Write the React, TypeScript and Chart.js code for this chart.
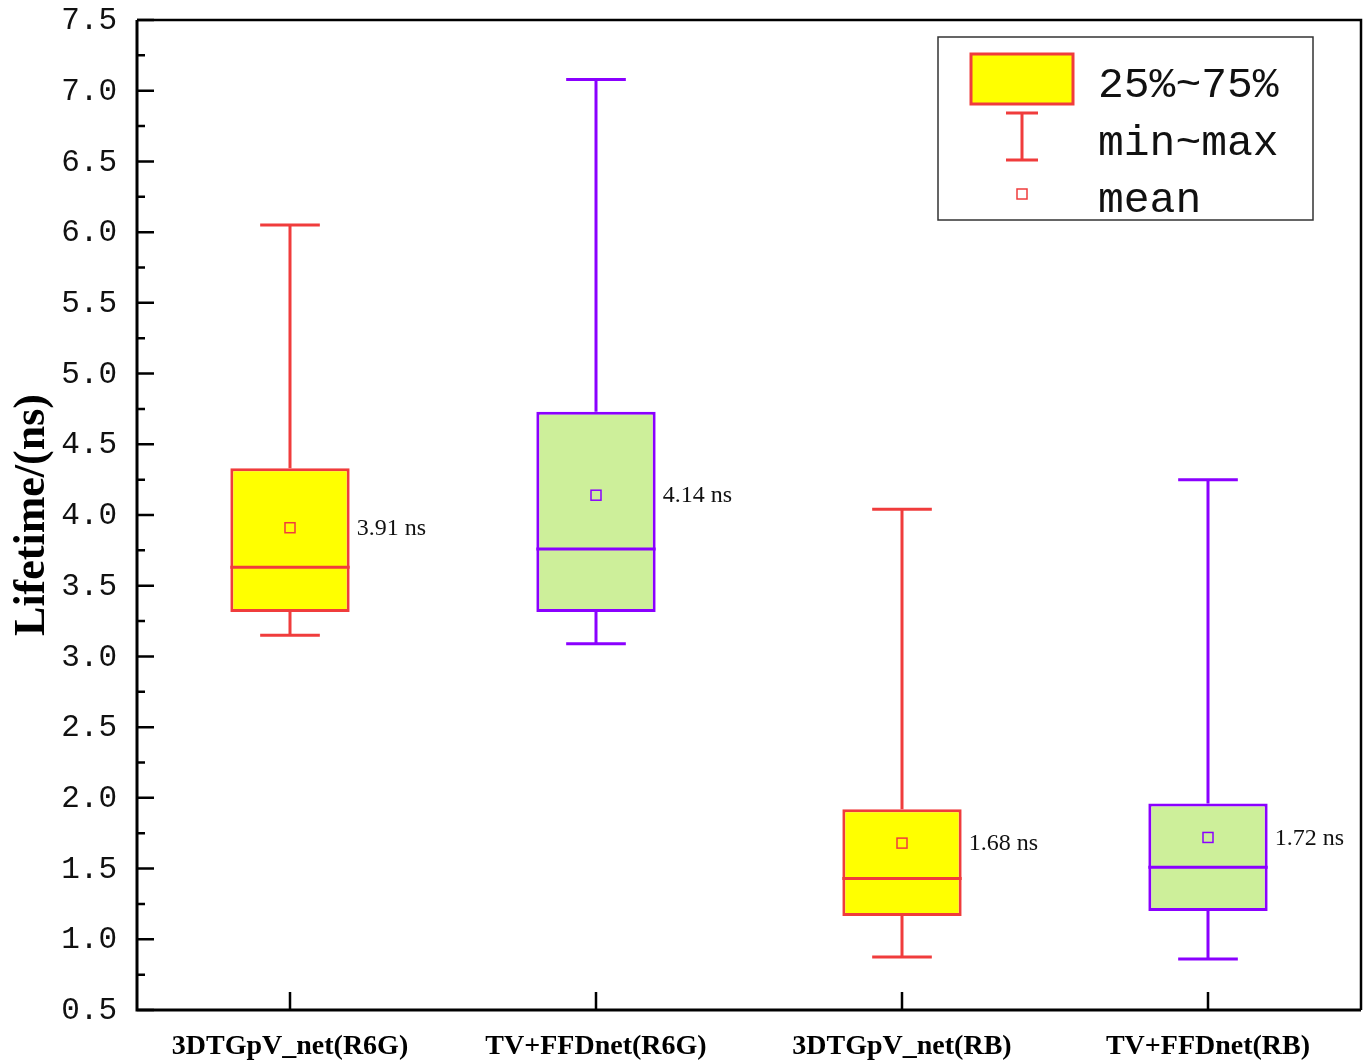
import React, { useEffect, useRef } from 'react';
import { Chart, registerables } from 'chart.js';

Chart.register(...registerables);

const categories = ['3DTGpV_net(R6G)', 'TV+FFDnet(R6G)', '3DTGpV_net(RB)', 'TV+FFDnet(RB)'];
const minValues = [3.15, 3.09, 0.875, 0.86];
const q1Values = [3.315, 3.315, 1.165, 1.2];
const medianValues = [3.63, 3.76, 1.43, 1.51];
const q3Values = [4.33, 4.73, 1.92, 1.96];
const maxValues = [6.05, 7.08, 4.04, 4.25];
const meanValues = [3.91, 4.14, 1.68, 1.72];
const meanLabels = ['3.91 ns', '4.14 ns', '1.68 ns', '1.72 ns'];
const yMin = 0.5;
const yMax = 7.5;
const yStep = 0.5;
const yTitle = 'Lifetime/(ns)';
const legendLabels = ['25%~75%', 'min~max', 'mean'];

const RED = '#F03C3C';
const PURPLE = '#8A00FF';
const YELLOW = '#FFFF00';
const GREEN = '#CDEF9A';
const strokeColors = [RED, PURPLE, RED, PURPLE];
const fillColors = [YELLOW, GREEN, YELLOW, GREEN];

const boxPlugin = {
  id: 'boxExtras',
  afterDatasetsDraw(chart: any) {
    const ctx = chart.ctx;
    const xs = chart.scales.x;
    const ys = chart.scales.y;
    const meta = chart.getDatasetMeta(0);
    const area = chart.chartArea;
    ctx.save();
    categories.forEach((_, i) => {
      const bar = meta.data[i];
      const x = xs.getPixelForValue(i);
      const w = bar.width;
      const capHalf = w / 4;
      const col = strokeColors[i];
      ctx.strokeStyle = col;
      ctx.lineWidth = 3;
      ctx.lineCap = 'butt';
      const yMinP = ys.getPixelForValue(minValues[i]);
      const yQ1 = ys.getPixelForValue(q1Values[i]);
      const yQ3 = ys.getPixelForValue(q3Values[i]);
      const yMaxP = ys.getPixelForValue(maxValues[i]);
      const yMed = ys.getPixelForValue(medianValues[i]);
      const yMean = ys.getPixelForValue(meanValues[i]);
      ctx.beginPath();
      ctx.moveTo(x, yMaxP);
      ctx.lineTo(x, yQ3);
      ctx.moveTo(x, yQ1);
      ctx.lineTo(x, yMinP);
      ctx.moveTo(x - capHalf, yMaxP);
      ctx.lineTo(x + capHalf, yMaxP);
      ctx.moveTo(x - capHalf, yMinP);
      ctx.lineTo(x + capHalf, yMinP);
      ctx.moveTo(x - w / 2, yMed);
      ctx.lineTo(x + w / 2, yMed);
      ctx.stroke();
      ctx.lineWidth = 1.5;
      ctx.strokeRect(x - 5, yMean - 5, 10, 10);
      ctx.fillStyle = '#111';
      ctx.font = '24px "Liberation Serif"';
      ctx.textAlign = 'left';
      ctx.textBaseline = 'middle';
      ctx.fillText(meanLabels[i], x + w / 2 + 7, yMean + 1);
    });

    // frame
    ctx.strokeStyle = '#000';
    ctx.lineWidth = 3;
    ctx.beginPath();
    ctx.moveTo(area.left, area.top);
    ctx.lineTo(area.left, area.bottom);
    ctx.lineTo(area.right, area.bottom);
    ctx.stroke();
    ctx.lineWidth = 2.5;
    ctx.beginPath();
    ctx.moveTo(area.left, area.top);
    ctx.lineTo(area.right, area.top);
    ctx.lineTo(area.right, area.bottom);
    ctx.stroke();

    // y ticks (inward)
    ctx.lineWidth = 2.5;
    ctx.beginPath();
    for (let v = yMin; v <= yMax + 1e-9; v += yStep / 2) {
      const y = ys.getPixelForValue(v);
      const major = Math.abs(Math.round(v / yStep) * yStep - v) < 1e-6;
      const len = major ? 17 : 8;
      ctx.moveTo(area.left, y);
      ctx.lineTo(area.left + len, y);
    }
    // x ticks (inward)
    categories.forEach((_, i) => {
      const x = xs.getPixelForValue(i);
      ctx.moveTo(x, area.bottom);
      ctx.lineTo(x, area.bottom - 18);
    });
    ctx.stroke();

    // y tick labels
    ctx.fillStyle = '#111';
    ctx.font = '31px "Liberation Mono"';
    ctx.textAlign = 'right';
    ctx.textBaseline = 'middle';
    ys.ticks.forEach((t: any) => {
      ctx.fillText(Number(t.value).toFixed(1), area.left - 20, ys.getPixelForValue(t.value) + 1);
    });

    // y title
    ctx.save();
    ctx.translate(33, (area.top + area.bottom) / 2);
    ctx.rotate(-Math.PI / 2);
    ctx.fillStyle = '#000';
    ctx.font = 'bold 44px "Liberation Serif"';
    ctx.textAlign = 'center';
    ctx.textBaseline = 'middle';
    ctx.fillText(yTitle, 0, 0);
    ctx.restore();

    // legend
    const lx = 938, ly = 37, lw = 375, lh = 183;
    ctx.fillStyle = '#fff';
    ctx.fillRect(lx, ly, lw, lh);
    ctx.strokeStyle = '#333';
    ctx.lineWidth = 1.5;
    ctx.strokeRect(lx, ly, lw, lh);
    ctx.fillStyle = YELLOW;
    ctx.fillRect(971, 54, 102, 50);
    ctx.strokeStyle = RED;
    ctx.lineWidth = 3;
    ctx.strokeRect(971, 54, 102, 50);
    ctx.beginPath();
    ctx.moveTo(1006, 113);
    ctx.lineTo(1038, 113);
    ctx.moveTo(1022, 113);
    ctx.lineTo(1022, 160);
    ctx.moveTo(1006, 160);
    ctx.lineTo(1038, 160);
    ctx.stroke();
    ctx.lineWidth = 1.5;
    ctx.strokeRect(1017, 189, 10, 10);
    ctx.fillStyle = '#111';
    ctx.font = '43px "Liberation Mono"';
    ctx.textAlign = 'left';
    ctx.textBaseline = 'alphabetic';
    ctx.fillText(legendLabels[0], 1098, 97);
    ctx.fillText(legendLabels[1], 1098, 155);
    ctx.fillText(legendLabels[2], 1098, 212);
    ctx.restore();
  },
};

export default function App() {
  const ref = useRef<HTMLCanvasElement>(null);
  useEffect(() => {
    document.body.style.margin = '0';
    const chart = new Chart(ref.current as HTMLCanvasElement, {
      type: 'bar',
      data: {
        labels: categories,
        datasets: [
          {
            data: categories.map((_, i) => [q1Values[i], q3Values[i]]) as any,
            backgroundColor: fillColors,
            borderColor: strokeColors,
            borderWidth: 3,
            borderSkipped: false,
            barPercentage: 0.39,
            categoryPercentage: 1.0,
          },
        ],
      },
      options: {
        responsive: false,
        animation: false,
        layout: { padding: { top: 20, right: 3, left: 0, bottom: 0 } },
        plugins: { legend: { display: false }, tooltip: { enabled: false } },
        scales: {
          x: {
            grid: { display: false, drawTicks: false },
            border: { display: false },
            ticks: {
              color: '#000',
              padding: 20,
              font: { family: '"Liberation Serif"', size: 28, weight: 'bold' },
            },
            afterFit: (s: any) => {
              s.height = 51;
            },
          },
          y: {
            min: yMin,
            max: yMax,
            grid: { display: false, drawTicks: false },
            border: { display: false },
            ticks: {
              display: false,
              stepSize: yStep,
            },
            afterFit: (s: any) => {
              s.width = 137;
            },
          },
        },
      },
      plugins: [boxPlugin],
    });
    return () => chart.destroy();
  }, []);
  return (
    <div style={{ position: 'absolute', left: 0, top: 0, width: 1364, height: 1061 }}>
      <canvas ref={ref} width={1364} height={1061} style={{ display: 'block' }} />
    </div>
  );
}
